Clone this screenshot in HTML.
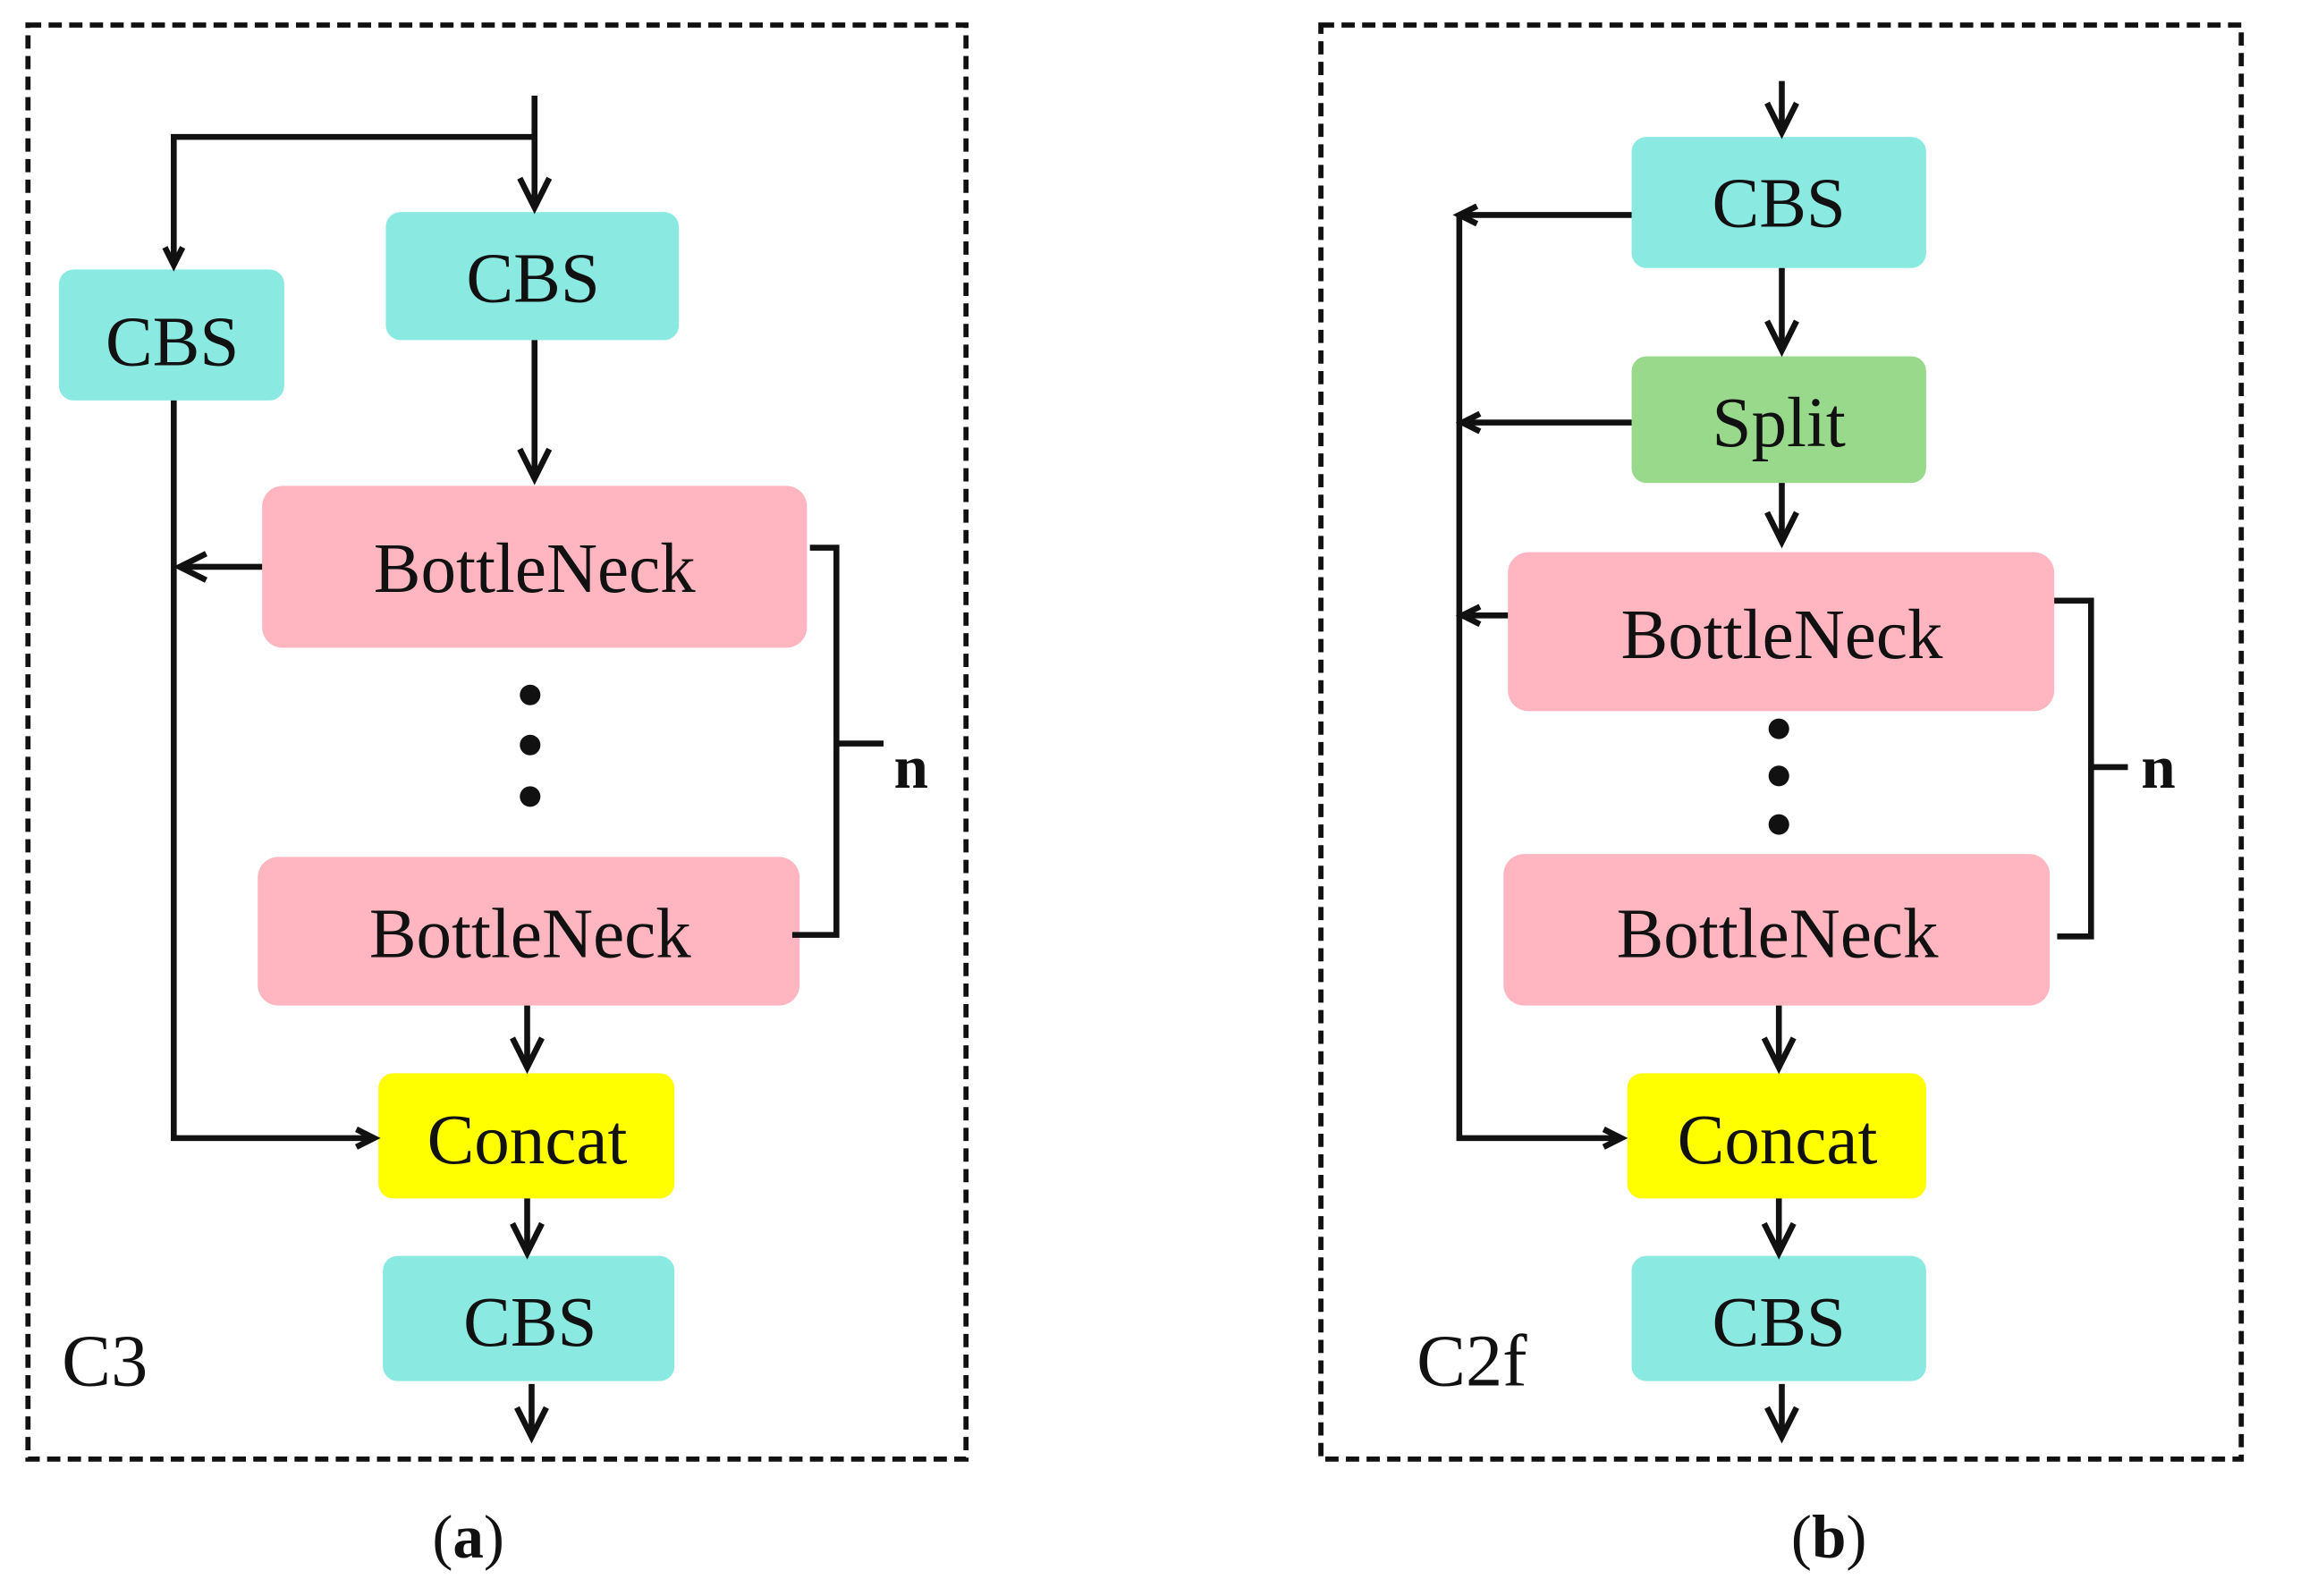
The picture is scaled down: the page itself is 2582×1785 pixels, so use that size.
<!DOCTYPE html>
<html><head><meta charset="utf-8"><style>
html,body{margin:0;padding:0;background:#fff;}
svg{display:block;}
text{font-family:"Liberation Serif",serif;fill:#111;}
</style></head><body>
<svg width="2582" height="1785" viewBox="0 0 1568 1084" preserveAspectRatio="none" xmlns="http://www.w3.org/2000/svg">
<g fill="none" stroke="#111" stroke-width="3.5" stroke-dasharray="9,5">
<rect x="19" y="17" width="637" height="974"/>
<rect x="897" y="17" width="625" height="974"/>
</g>
<rect x="262" y="144" width="199" height="87" rx="10" fill="#8aeae2"/>
<rect x="40" y="183" width="153" height="89" rx="10" fill="#8aeae2"/>
<rect x="178" y="330" width="370" height="110" rx="14" fill="#ffb6c1"/>
<rect x="175" y="582" width="368" height="101" rx="14" fill="#ffb6c1"/>
<rect x="257" y="729" width="201" height="85" rx="10" fill="#ffff00"/>
<rect x="260" y="853" width="198" height="85" rx="10" fill="#8aeae2"/>
<rect x="1108" y="93" width="200" height="89" rx="10" fill="#8aeae2"/>
<rect x="1108" y="242" width="200" height="86" rx="10" fill="#98d98b"/>
<rect x="1024" y="375" width="371" height="108" rx="14" fill="#ffb6c1"/>
<rect x="1021" y="580" width="371" height="103" rx="14" fill="#ffb6c1"/>
<rect x="1105" y="729" width="203" height="85" rx="10" fill="#ffff00"/>
<rect x="1108" y="853" width="200" height="85" rx="10" fill="#8aeae2"/>
<g fill="none" stroke="#111" stroke-width="4">
<path d="M363 65 V141"/><path d="M353 121 L363 141 L373 121"/>
<path d="M363 93 H118 V180"/><path d="M112 168 L118 180 L124 168"/>
<path d="M363 231 V325"/><path d="M353 305 L363 325 L373 305"/>
<path d="M178 385 H122"/><path d="M140 376 L122 385 L140 394"/>
<path d="M118 272 V773 H254"/><path d="M242 767 L254 773 L242 779"/>
<path d="M358 683 V725"/><path d="M348 705 L358 725 L368 705"/>
<path d="M358 814 V851"/><path d="M348 831 L358 851 L368 831"/>
<path d="M361 940 V976"/><path d="M351 956 L361 976 L371 956"/>
<path d="M550 372 H568 V635 H538"/><path d="M568 505 H600"/>
<path d="M1210 55 V90"/><path d="M1200 70 L1210 90 L1220 70"/>
<path d="M1108 146 H991"/><path d="M1003 140 L991 146 L1003 152"/>
<path d="M991 146 V773 H1101"/><path d="M1089 767 L1101 773 L1089 779"/>
<path d="M1210 182 V238"/><path d="M1200 218 L1210 238 L1220 218"/>
<path d="M1108 287 H993"/><path d="M1005 281 L993 287 L1005 293"/>
<path d="M1210 328 V368"/><path d="M1200 348 L1210 368 L1220 348"/>
<path d="M1024 418 H993"/><path d="M1005 412 L993 418 L1005 424"/>
<path d="M1208 683 V725"/><path d="M1198 705 L1208 725 L1218 705"/>
<path d="M1208 814 V851"/><path d="M1198 831 L1208 851 L1218 831"/>
<path d="M1210 940 V976"/><path d="M1200 956 L1210 976 L1220 956"/>
<path d="M1395 408 H1420 V636 H1397"/><path d="M1420 521 H1445"/>
</g>
<g fill="#111">
<circle cx="360" cy="472" r="7"/><circle cx="360" cy="506" r="7"/><circle cx="360" cy="541" r="7"/>
<circle cx="1208" cy="495" r="7"/><circle cx="1208" cy="527" r="7"/><circle cx="1208" cy="560" r="7"/>
</g>
<g text-anchor="middle" font-size="48">
<text x="362" y="205">CBS</text>
<text x="117" y="248">CBS</text>
<text x="363" y="402">BottleNeck</text>
<text x="360" y="650">BottleNeck</text>
<text x="358" y="790">Concat</text>
<text x="360" y="914">CBS</text>
<text x="1208" y="154">CBS</text>
<text x="1208" y="303">Split</text>
<text x="1210" y="447">BottleNeck</text>
<text x="1207" y="650">BottleNeck</text>
<text x="1207" y="790">Concat</text>
<text x="1208" y="914">CBS</text>
</g>
<text x="607" y="535" font-size="42" font-weight="bold">n</text>
<text x="1454" y="535" font-size="42" font-weight="bold">n</text>
<text x="42" y="941" font-size="50">C3</text>
<text x="962" y="941" font-size="50">C2f</text>
<text x="318" y="1058" font-size="42" text-anchor="middle">(<tspan font-weight="bold">a</tspan>)</text>
<text x="1242" y="1058" font-size="42" text-anchor="middle">(<tspan font-weight="bold">b</tspan>)</text>
</svg>
</body></html>
